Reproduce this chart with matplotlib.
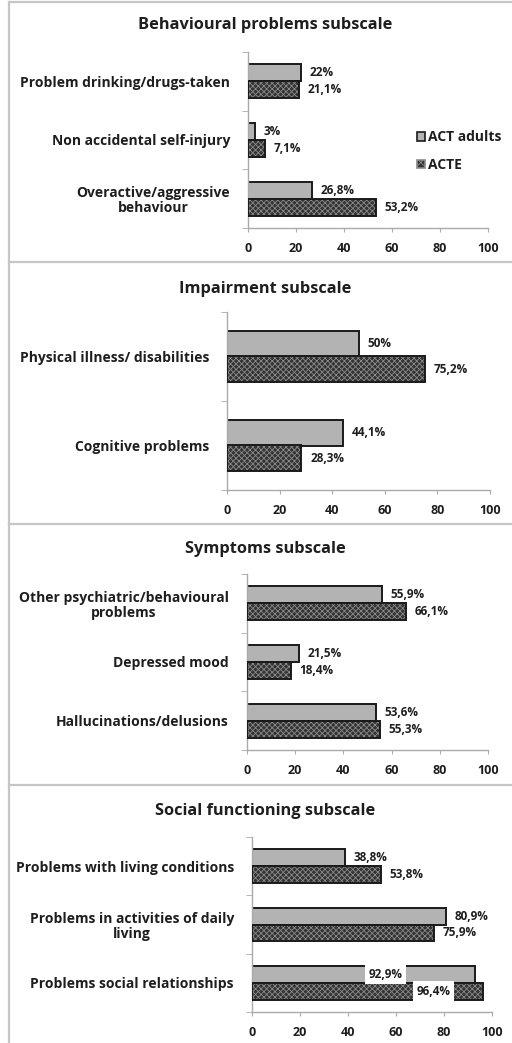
import matplotlib
matplotlib.use("Agg")
import numpy as np
import matplotlib.pyplot as plt
from matplotlib.lines import Line2D
from matplotlib.patches import Patch

plt.rcParams['font.family'] = ['Open Sans', 'DejaVu Sans']
plt.rcParams['font.weight'] = 'bold'
plt.rcParams['hatch.linewidth'] = 0.6

# --- data: HoNOS subscales, % of patients with a problem ---
titles = ["Behavioural problems subscale", "Impairment subscale",
          "Symptoms subscale", "Social functioning subscale"]

beh_items = ["Problem drinking/drugs-taken", "Non accidental self-injury",
             "Overactive/aggressive\nbehaviour"]
beh_act = [22, 3, 26.8]
beh_acte = [21.1, 7.1, 53.2]
beh_act_lbl = ["22%", "3%", "26,8%"]
beh_acte_lbl = ["21,1%", "7,1%", "53,2%"]

imp_items = ["Physical illness/ disabilities", "Cognitive problems"]
imp_act = [50, 44.1]
imp_acte = [75.2, 28.3]
imp_act_lbl = ["50%", "44,1%"]
imp_acte_lbl = ["75,2%", "28,3%"]

sym_items = ["Other psychiatric/behavioural\nproblems", "Depressed mood",
             "Hallucinations/delusions"]
sym_act = [55.9, 21.5, 53.6]
sym_acte = [66.1, 18.4, 55.3]
sym_act_lbl = ["55,9%", "21,5%", "53,6%"]
sym_acte_lbl = ["66,1%", "18,4%", "55,3%"]

soc_items = ["Problems with living conditions",
             "Problems in activities of daily\nliving",
             "Problems social relationships"]
soc_act = [38.8, 80.9, 92.9]
soc_acte = [53.8, 75.9, 96.4]
soc_act_lbl = ["38,8%", "80,9%", "92,9%"]
soc_acte_lbl = ["53,8%", "75,9%", "96,4%"]

series = ["ACT adults", "ACTE"]
xticks = [0, 20, 40, 60, 80, 100]

panels = [
    (beh_items, beh_act, beh_acte, beh_act_lbl, beh_acte_lbl),
    (imp_items, imp_act, imp_acte, imp_act_lbl, imp_acte_lbl),
    (sym_items, sym_act, sym_acte, sym_act_lbl, sym_acte_lbl),
    (soc_items, soc_act, soc_acte, soc_act_lbl, soc_acte_lbl),
]

W, H = 512, 1043
# axes boxes in pixels: left, right, top, bottom
boxes = [(248, 488, 52, 228), (227, 490, 312, 490),
         (247, 488, 574, 750), (252, 492, 837, 1012)]
title_y = [25, 289, 549, 811]
frame_y = [2, 262, 524, 785]
# labels that sit inside the bars (last panel, last row)
inside = {(3, 2): (55.8, 75.8)}

TXT = '#1e1e1e'
GRAY = '#b3b3b3'
DARK = '#333333'
bh = 0.29

fig = plt.figure(figsize=(W / 100, H / 100), dpi=100)

for p, (items, act, acte, act_lbl, acte_lbl) in enumerate(panels):
    x0, x1, yt, yb = boxes[p]
    ax = fig.add_axes([x0 / W, 1 - yb / H, (x1 - x0) / W, (yb - yt) / H])
    n = len(items)
    y = np.arange(n)[::-1].astype(float)

    ax.barh(y + bh / 2, act, height=bh, color=GRAY, edgecolor='#1a1a1a', lw=1.4, zorder=2)
    ax.barh(y - bh / 2, acte, height=bh, color=DARK, edgecolor='#8a8a8a',
            hatch='xxxxxx', lw=0, zorder=2)
    ax.barh(y - bh / 2, acte, height=bh, fill=False, edgecolor='#1a1a1a', lw=1.4, zorder=3)

    for i in range(n):
        if (p, i) in inside:
            xa, xb = inside[(p, i)]
            kw = dict(bbox=dict(facecolor='white', edgecolor='none', pad=2.5), zorder=5)
            ax.text(xa, y[i] + bh / 2, act_lbl[i], ha='center', va='center',
                    fontsize=8.5, color=TXT, **kw)
            ax.text(xb, y[i] - bh / 2, acte_lbl[i], ha='center', va='center',
                    fontsize=8.5, color=TXT, **kw)
        else:
            ax.text(act[i] + 3.5, y[i] + bh / 2, act_lbl[i], ha='left', va='center',
                    fontsize=8.5, color=TXT)
            ax.text(acte[i] + 3.5, y[i] - bh / 2, acte_lbl[i], ha='left', va='center',
                    fontsize=8.5, color=TXT)

    ax.set_xlim(0, 100)
    ax.set_ylim(-0.5, n - 0.5)
    ax.set_xticks(xticks)
    ax.set_xticklabels([str(t) for t in xticks], fontsize=9, color=TXT)
    ax.set_yticks(y)
    ax.set_yticklabels(items, fontsize=10, color=TXT, linespacing=1.1)
    for t in ax.get_yticklabels():
        t.set_multialignment('center')
    ax.set_yticks(np.arange(n + 1) - 0.5, minor=True)
    ax.tick_params(axis='y', which='major', length=0, pad=13)
    ax.tick_params(axis='y', which='minor', length=4, color='#aaaaaa')
    ax.tick_params(axis='x', length=3, color='#aaaaaa', pad=7)
    for s in ['top', 'right']:
        ax.spines[s].set_visible(False)
    for s in ['left', 'bottom']:
        ax.spines[s].set_color('#aaaaaa')
        ax.spines[s].set_linewidth(1.0)
    ax.set_facecolor('none')

    fig.text(265 / W, 1 - title_y[p] / H, titles[p], ha='center', va='center',
             fontsize=11.8, color=TXT)

    if p == 0:
        handles = [Patch(facecolor=GRAY, edgecolor='#1a1a1a', lw=1.2),
                   Patch(facecolor=DARK, edgecolor='#8a8a8a', hatch='xxxx', lw=1.2)]
        fig.legend(handles, series, loc='center left',
                   bbox_to_anchor=(404 / W, 1 - 151 / H), frameon=False,
                   fontsize=10, handlelength=0.6, handleheight=0.6,
                   handletextpad=0.25, labelspacing=1.0, labelcolor=TXT)

# panel frames
for yf in frame_y:
    fig.add_artist(Line2D([9 / W, 1], [1 - yf / H] * 2, color='#c6c6c6', lw=1.6))
fig.add_artist(Line2D([9 / W] * 2, [1 - 2 / H, 0], color='#c6c6c6', lw=1.6))

fig.savefig("out.png", dpi=100)
